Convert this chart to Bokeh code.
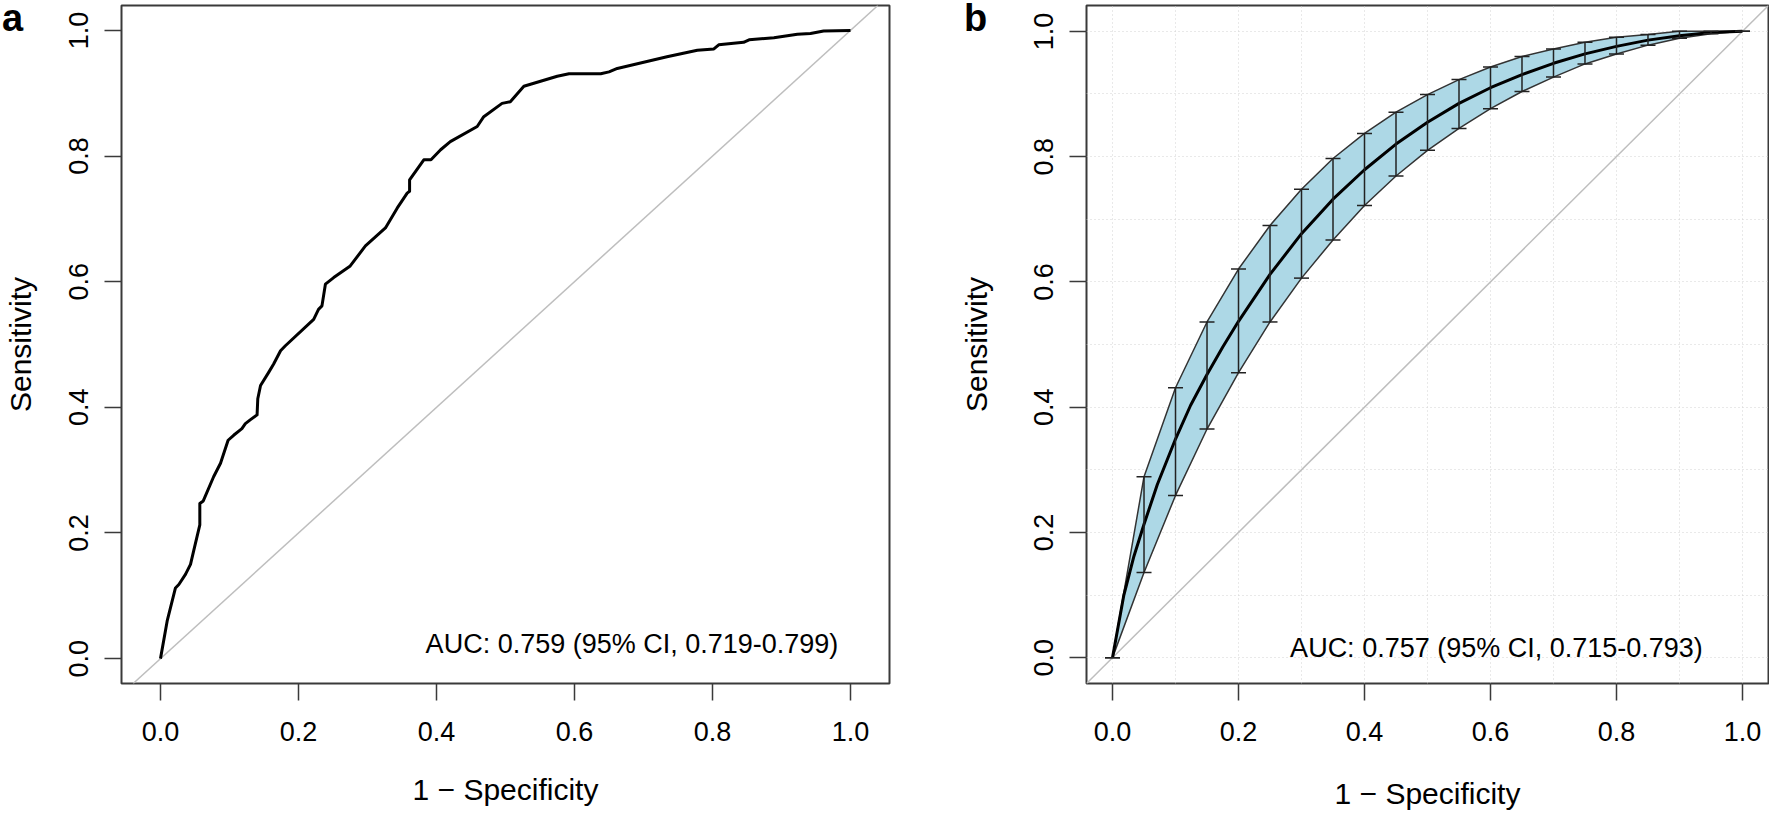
from bokeh.plotting import figure
from bokeh.models import (ColumnDataSource, Whisker, TeeHead, Slope, Label, Div, GridBox,
                          FixedTicker, PrintfTickFormatter, Range1d)
from bokeh.embed import file_html
from bokeh.resources import INLINE

# ---------------- data ----------------
# Panel a: empirical ROC curve (1 - specificity, sensitivity)
roc_a_fpr = [0.0, 0.0097, 0.0217, 0.0266, 0.0362, 0.0435, 0.048, 0.057, 0.057, 0.062,
             0.077, 0.087, 0.098, 0.106, 0.118, 0.123, 0.130, 0.140, 0.141, 0.145,
             0.157, 0.164, 0.174, 0.181, 0.222, 0.229, 0.234, 0.239, 0.251, 0.275,
             0.297, 0.326, 0.343, 0.3575, 0.361, 0.361, 0.3816, 0.392, 0.406, 0.420,
             0.459, 0.4685, 0.495, 0.507, 0.5266, 0.575, 0.592, 0.638, 0.650, 0.662,
             0.734, 0.778, 0.802, 0.809, 0.845, 0.853, 0.889, 0.923, 0.942, 0.961, 1.0]
roc_a_tpr = [0.0, 0.060, 0.1125, 0.118, 0.134, 0.150, 0.171, 0.213, 0.247, 0.251,
             0.2895, 0.311, 0.3476, 0.3555, 0.366, 0.374, 0.380, 0.388, 0.4136, 0.4347,
             0.456, 0.469, 0.490, 0.498, 0.540, 0.556, 0.5615, 0.596, 0.6065, 0.625,
             0.657, 0.6855, 0.717, 0.741, 0.744, 0.762, 0.794, 0.794, 0.810, 0.823,
             0.847, 0.8626, 0.8838, 0.8864, 0.911, 0.927, 0.931, 0.931, 0.934, 0.9394,
             0.958, 0.9683, 0.9705, 0.977, 0.981, 0.985, 0.9884, 0.9937, 0.995, 0.999, 1.0]

# Panel b: smoothed ROC curve
roc_b_fpr = [0.0, 0.018, 0.034, 0.05, 0.071, 0.10, 0.124, 0.15, 0.175, 0.20, 0.25, 0.30,
             0.35, 0.40, 0.45, 0.50, 0.55, 0.60, 0.65, 0.70, 0.75, 0.80, 0.85, 0.90,
             0.95, 1.0]
roc_b_tpr = [0.0, 0.100, 0.162, 0.213, 0.276, 0.349, 0.403, 0.452, 0.496, 0.537, 0.612,
             0.677, 0.732, 0.779, 0.820, 0.855, 0.885, 0.910, 0.931, 0.949, 0.964,
             0.976, 0.986, 0.993, 0.998, 1.0]

# Panel b: 95% CI of sensitivity at each 1 - specificity
ci_fpr = [0.0, 0.05, 0.10, 0.15, 0.20, 0.25, 0.30, 0.35, 0.40, 0.45, 0.50, 0.55, 0.60,
          0.65, 0.70, 0.75, 0.80, 0.85, 0.90, 0.95, 1.0]
ci_upper = [0.0, 0.289, 0.431, 0.536, 0.6205, 0.690, 0.748, 0.797, 0.837, 0.871, 0.899,
            0.923, 0.943, 0.960, 0.972, 0.9825, 0.9905, 0.995, 1.0, 1.0, 1.0]
ci_lower = [0.0, 0.136, 0.259, 0.365, 0.455, 0.536, 0.606, 0.667, 0.722, 0.769, 0.810,
            0.845, 0.8765, 0.904, 0.927, 0.948, 0.964, 0.978, 0.989, 0.996, 1.0]

axis_ticks = [0.0, 0.2, 0.4, 0.6, 0.8, 1.0]
grid_ticks = [0.0, 0.1, 0.2, 0.3, 0.4, 0.5, 0.6, 0.7, 0.8, 0.9, 1.0]

auc_a_text = "AUC: 0.759 (95% CI, 0.719-0.799)"
auc_b_text = "AUC: 0.757 (95% CI, 0.715-0.793)"
x_title = "1 \u2212 Specificity"
y_title = "Sensitivity"
panel_letters = ["a", "b"]

FONT = "Liberation Sans"
FRAME = "#3a3a3a"


def style(p, y_label_standoff, y_title_standoff, x_label_standoff, x_title_standoff):
    p.outline_line_color = FRAME
    p.outline_line_width = 2
    p.background_fill_color = "white"
    p.border_fill_color = "white"
    for ax in (p.xaxis[0], p.yaxis[0]):
        ax.ticker = FixedTicker(ticks=axis_ticks)
        ax.formatter = PrintfTickFormatter(format="%.1f")
        ax.axis_line_color = None
        ax.major_tick_line_color = FRAME
        ax.major_tick_line_width = 1.5
        ax.major_tick_out = 17
        ax.major_tick_in = 0
        ax.minor_tick_line_color = None
        ax.major_label_text_font = FONT
        ax.major_label_text_font_size = "27px"
        ax.major_label_text_color = "black"
        ax.axis_label_text_font = FONT
        ax.axis_label_text_font_size = "30px"
        ax.axis_label_text_font_style = "normal"
        ax.axis_label_text_color = "black"
    p.xaxis[0].major_label_standoff = x_label_standoff
    p.xaxis[0].axis_label_standoff = x_title_standoff
    p.yaxis[0].major_label_standoff = y_label_standoff
    p.yaxis[0].axis_label_standoff = y_title_standoff
    p.yaxis[0].major_label_orientation = "vertical"
    p.xaxis[0].axis_label = x_title
    p.yaxis[0].axis_label = y_title


def letter_div(letter, left):
    html = ('<div style="font-family:\'Liberation Sans\',Arial,sans-serif;'
            'font-weight:bold;font-size:38px;line-height:38px;color:black;'
            'margin-top:-6px;margin-left:%dpx;">%s</div>' % (left, letter))
    return Div(text=html, width=60, height=45)


# ---------------- panel a ----------------
pa = figure(width=955, height=812, output_backend="svg", toolbar_location=None,
            x_range=Range1d(-0.0565, 1.0565), y_range=Range1d(-0.0396, 1.0396),
            min_border_left=121, min_border_right=66, min_border_top=5,
            min_border_bottom=126)
style(pa, 16, 30, 21, 29)
pa.grid.visible = False
pa.add_layout(Slope(gradient=1, y_intercept=0, line_color="#bebebe", line_width=1.5,
                    level="underlay"))
pa.line(roc_a_fpr, roc_a_tpr, line_color="black", line_width=3, line_join="round")
pa.add_layout(Label(x=0.6833, y=0.0227, text=auc_a_text, text_font=FONT,
                    text_font_size="27px", text_align="center",
                    text_baseline="alphabetic", text_color="black"))

# ---------------- panel b ----------------
pb = figure(width=814, height=812, output_backend="svg", toolbar_location=None,
            x_range=Range1d(-0.0413, 1.0413), y_range=Range1d(-0.0413, 1.0413),
            min_border_left=131, min_border_right=1, min_border_top=3,
            min_border_bottom=128)
style(pb, 16, 39, 21, 33)
for g in pb.grid:
    g.ticker = FixedTicker(ticks=grid_ticks)
    g.grid_line_color = "#d3d3d3"
    g.grid_line_dash = "1 3"
    g.grid_line_width = 1
pb.add_layout(Slope(gradient=1, y_intercept=0, line_color="#bebebe", line_width=1.5,
                    level="underlay"))
band_x = ci_fpr + ci_fpr[::-1]
band_y = ci_upper + ci_lower[::-1]
pb.patch(band_x, band_y, fill_color="#add8e6", line_color="#333333", line_width=1.5)
pb.line(roc_b_fpr, roc_b_tpr, line_color="black", line_width=3, line_join="round")
ci_src = ColumnDataSource(dict(x=ci_fpr, upper=ci_upper, lower=ci_lower))
pb.add_layout(Whisker(source=ci_src, base="x", upper="upper", lower="lower",
                      level="annotation", line_color="#222222", line_width=1.5,
                      upper_head=TeeHead(size=15, line_color="#222222", line_width=1.5),
                      lower_head=TeeHead(size=15, line_color="#222222", line_width=1.5)))
pb.add_layout(Label(x=0.6095, y=0.016, text=auc_b_text, text_font=FONT,
                    text_font_size="27px", text_align="center",
                    text_baseline="alphabetic", text_color="black"))

div_a = letter_div(panel_letters[0], -3)
div_b = letter_div(panel_letters[1], 4)

layout = GridBox(children=[(pa, 0, 0), (pb, 0, 1), (div_a, 0, 0), (div_b, 0, 1)],
                 spacing=0)
open("out.html", "w").write(file_html(layout, INLINE))
